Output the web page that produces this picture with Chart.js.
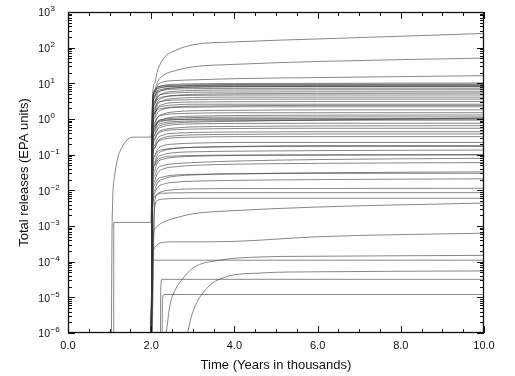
<!DOCTYPE html>
<html>
<head>
<meta charset="utf-8">
<script src="https://cdn.jsdelivr.net/npm/chart.js@4/dist/chart.umd.min.js"></script>
<style>
  html, body { margin: 0; padding: 0; background: #fff; }
  #wrap { width: 515px; height: 376px; }
</style>
</head>
<body>
<div id="wrap"><canvas id="chart"></canvas></div>
<script>
// shared time grid (thousands of years) for the runs that start at ~2.0
const timeGrid = [2.0, 2.03, 2.08, 2.15, 2.3, 2.6, 3.0, 4.0, 6.0, 10.0];

// runs ending above ~3 EPA units
const upperBand = [
  [1e-7, 3, 10, 22, 50, 85, 120, 145, 175, 250],
  [1e-7, 2, 6, 11, 17, 23, 29, 34, 41, 51],
  [1e-7, 1.5, 5, 8.5, 11, 12, 12.5, 13.5, 14.5, 16.4],
  [1e-7, 2, 5.5, 7.5, 8.8, 9.4, 9.7, 9.9, 10, 10.2],
  [1e-7, 3, 6.5, 7.8, 8.5, 8.9, 9.1, 9.3, 9.4, 9.5],
  [1e-7, 1, 4, 6.5, 7.8, 8.4, 8.7, 8.9, 9, 9.1],
  [1e-7, 2.5, 6, 7.2, 7.9, 8.2, 8.4, 8.5, 8.6, 8.6],
  [1e-7, 0.8, 3, 5, 6.6, 7.5, 7.9, 8.1, 8.2, 8.3],
  [1e-7, 1.5, 4.5, 6, 7, 7.5, 7.8, 8, 8.1, 8.1],
  [1e-7, 1.8, 4.2, 5.5, 6.4, 6.9, 7.1, 7.2, 7.3, 7.3],
  [1e-7, 0.6, 2.5, 4, 5.3, 6, 6.3, 6.5, 6.6, 6.6],
  [1e-7, 1.2, 3, 4.2, 5, 5.4, 5.6, 5.7, 5.8, 5.8],
  [1e-7, 0.5, 1.8, 3, 4, 4.6, 4.9, 5.1, 5.2, 5.3],
  [1e-7, 1, 2.6, 3.6, 4.2, 4.5, 4.6, 4.7, 4.7, 4.7],
  [1e-7, 0.4, 1.5, 2.5, 3.3, 3.8, 4, 4.1, 4.1, 4.1],
  [1e-7, 0.8, 2, 2.8, 3.2, 3.4, 3.5, 3.6, 3.6, 3.6],
  [1e-7, 0.3, 1.2, 2, 2.6, 2.9, 3, 3.05, 3.1, 3.1]
];

// runs ending between ~0.3 and ~3
const middleBand = [
  [1e-7, 0.5, 1.4, 2, 2.3, 2.5, 2.6, 2.6, 2.6, 2.6],
  [1e-7, 0.3, 1, 1.5, 1.9, 2.1, 2.15, 2.2, 2.2, 2.2],
  [1e-7, 0.2, 0.7, 1.1, 1.4, 1.6, 1.7, 1.75, 1.8, 1.8],
  [1e-7, 0.3, 0.8, 1.1, 1.3, 1.4, 1.45, 1.5, 1.5, 1.5],
  [1e-7, 0.15, 0.5, 0.8, 1, 1.15, 1.2, 1.25, 1.28, 1.3],
  [1e-7, 0.25, 0.6, 0.85, 0.98, 1.05, 1.1, 1.12, 1.14, 1.15],
  [1e-7, 0.2, 0.55, 0.75, 0.88, 0.95, 0.98, 1.0, 1.0, 1.0],
  [1e-7, 0.3, 0.65, 0.82, 0.92, 0.97, 0.99, 1.0, 1.01, 1.02],
  [1e-7, 0.1, 0.35, 0.55, 0.7, 0.78, 0.82, 0.86, 0.93, 1.07],
  [1e-7, 0.15, 0.45, 0.65, 0.78, 0.85, 0.88, 0.9, 0.92, 0.93],
  [1e-7, 0.12, 0.35, 0.5, 0.62, 0.7, 0.73, 0.75, 0.76, 0.76],
  [1e-7, 0.08, 0.25, 0.4, 0.5, 0.56, 0.6, 0.62, 0.64, 0.65],
  [1e-7, 0.1, 0.28, 0.38, 0.46, 0.5, 0.52, 0.54, 0.55, 0.55],
  [1e-7, 0.06, 0.18, 0.28, 0.36, 0.4, 0.42, 0.43, 0.44, 0.44],
  [1e-7, 0.05, 0.15, 0.23, 0.3, 0.34, 0.36, 0.37, 0.38, 0.38],
  [1e-7, 0.06, 0.15, 0.22, 0.27, 0.3, 0.31, 0.32, 0.32, 0.32]
];

// runs ending below ~0.3
const lowerBand = [
  [1e-7, 0.03, 0.09, 0.14, 0.18, 0.2, 0.21, 0.22, 0.22, 0.22],
  [1e-7, 0.02, 0.06, 0.1, 0.13, 0.15, 0.16, 0.17, 0.18, 0.18],
  [1e-7, 0.015, 0.05, 0.08, 0.1, 0.115, 0.12, 0.125, 0.13, 0.135],
  [1e-7, 0.01, 0.035, 0.06, 0.075, 0.085, 0.09, 0.095, 0.098, 0.1],
  [1e-7, 0.02, 0.05, 0.07, 0.085, 0.092, 0.095, 0.097, 0.098, 0.099],
  [1e-7, 0.008, 0.025, 0.04, 0.05, 0.056, 0.06, 0.066, 0.073, 0.079],
  [1e-7, 0.005, 0.018, 0.03, 0.04, 0.046, 0.05, 0.054, 0.057, 0.06],
  [1e-7, 0.003, 0.01, 0.016, 0.021, 0.025, 0.027, 0.029, 0.031, 0.033],
  [1e-7, 0.005, 0.014, 0.02, 0.024, 0.027, 0.028, 0.029, 0.03, 0.03],
  [1e-7, 0.002, 0.008, 0.012, 0.015, 0.017, 0.018, 0.019, 0.02, 0.021],
  [1e-7, 2e-6, 0.004, 0.008, 0.0095, 0.0105, 0.011, 0.0112, 0.0113, 0.0114],
  [1e-7, 0.003, 0.0065, 0.0078, 0.0083, 0.0085, 0.0086, 0.0086, 0.0086, 0.0086],
  [1e-7, 1e-5, 0.003, 0.0052, 0.0057, 0.0059, 0.006, 0.006, 0.006, 0.006],
  [1e-7, 3e-4, 8e-4, 1.0e-3, 1.3e-3, 1.7e-3, 2.2e-3, 2.7e-3, 3.4e-3, 4.4e-3],
  [1e-7, 1e-4, 2.4e-4, 3.0e-4, 3.5e-4, 3.6e-4, 3.6e-4, 3.7e-4, 5.0e-4, 6.3e-4],
  [1e-7, 1.1e-4, 1.1e-4, 1.1e-4, 1.1e-4, 1.1e-4, 1.1e-4, 1.1e-4, 1.1e-4, 1.1e-4]
];

// runs with their own time points (early releases, late arrivals)
const earlyTimes1  = [1.04, 1.06, 1.12, 1.2, 1.3, 1.42, 1.56, 1.99, 2.03, 2.1, 2.3, 3.0, 6.0, 10.0];
const earlyValues1 = [1e-7, 1e-3, 0.025, 0.085, 0.16, 0.26, 0.31, 0.31, 0.9, 1.6, 2.0, 2.3, 2.4, 2.4];
const earlyTimes2  = [1.099, 1.1, 1.99, 2.02, 2.1, 2.3, 3.0, 6.0, 10.0];
const earlyValues2 = [1e-7, 1.26e-3, 1.26e-3, 0.02, 0.1, 0.14, 0.16, 0.17, 0.17];
const lateTimes1   = [2.22, 2.23, 2.26, 10.0];
const lateValues1  = [1e-7, 2e-5, 3.2e-5, 3.2e-5];
const lateTimes2   = [2.26, 2.27, 2.31, 10.0];
const lateValues2  = [1e-7, 8e-6, 1.2e-5, 1.2e-5];
const lateTimes3   = [2.32, 2.38, 2.45, 2.6, 2.7, 3.0, 3.65, 4.6, 6.0, 10.0];
const lateValues3  = [5e-7, 1.5e-6, 6e-6, 1.8e-5, 2.7e-5, 6.6e-5, 1.1e-4, 1.35e-4, 1.42e-4, 1.5e-4];
const lateTimes4   = [2.84, 3.0, 3.34, 3.72, 4.61, 6.0, 10.0];
const lateValues4  = [7e-7, 3.9e-6, 1.8e-5, 3.5e-5, 4.8e-5, 5.2e-5, 5.5e-5];

// axis ticks
const xTickValues = [0, 2, 4, 6, 8, 10];
const xMinorStep = 0.5;
const yDecades = [-6, -5, -4, -3, -2, -1, 0, 1, 2, 3];

const lineColor = 'rgba(55,55,55,0.6)';
const fontFamily = '"Liberation Sans", Arial, Helvetica, sans-serif';

function toPoints(times, values) {
  return values.map((v, i) => ({ x: times[i], y: v }));
}

const datasets = [];
[...upperBand, ...middleBand, ...lowerBand].forEach(row => {
  datasets.push({ data: toPoints(timeGrid, row) });
});
[[earlyTimes1, earlyValues1], [earlyTimes2, earlyValues2],
 [lateTimes1, lateValues1], [lateTimes2, lateValues2],
 [lateTimes3, lateValues3], [lateTimes4, lateValues4]].forEach(([t, v]) => {
  datasets.push({ data: toPoints(t, v) });
});

// frame, inward ticks on all four sides, and 10^n labels
const frameAndTicks = {
  id: 'frameAndTicks',
  afterDraw(chart) {
    const { ctx, chartArea: a, scales: { x, y } } = chart;
    ctx.save();
    ctx.strokeStyle = '#111';
    ctx.lineWidth = 1;
    ctx.beginPath();

    for (let v = x.min; v <= x.max + 1e-9; v += xMinorStep) {
      const px = Math.round(x.getPixelForValue(v)) + 0.5;
      const len = xTickValues.includes(Math.round(v * 10) / 10) ? 7 : 4;
      ctx.moveTo(px, a.bottom); ctx.lineTo(px, a.bottom - len);
      ctx.moveTo(px, a.top); ctx.lineTo(px, a.top + len);
    }
    yDecades.forEach(d => {
      const py = Math.round(y.getPixelForValue(Math.pow(10, d))) + 0.5;
      ctx.moveTo(a.left, py); ctx.lineTo(a.left + 7, py);
      ctx.moveTo(a.right, py); ctx.lineTo(a.right - 7, py);
      if (d < yDecades[yDecades.length - 1]) {
        for (let m = 2; m <= 9; m++) {
          const pm = Math.round(y.getPixelForValue(m * Math.pow(10, d))) + 0.5;
          ctx.moveTo(a.left, pm); ctx.lineTo(a.left + 4, pm);
          ctx.moveTo(a.right, pm); ctx.lineTo(a.right - 4, pm);
        }
      }
    });
    ctx.stroke();

    ctx.lineWidth = 1.3;
    ctx.strokeRect(a.left + 0.5, a.top + 0.5, a.right - a.left - 1, a.bottom - a.top - 1);

    ctx.fillStyle = '#111';
    ctx.textBaseline = 'middle';
    yDecades.forEach(d => {
      const py = y.getPixelForValue(Math.pow(10, d));
      ctx.font = '10.5px ' + fontFamily;
      ctx.textAlign = 'right';
      ctx.fillText('10', a.left - 18, py + 1.5);
      ctx.font = '8px ' + fontFamily;
      ctx.textAlign = 'left';
      ctx.fillText(String(d).replace('-', '\u2212'), a.left - 17.5, py - 3);
    });
    ctx.restore();
  }
};

new Chart(document.getElementById('chart'), {
  type: 'line',
  data: { datasets },
  options: {
    responsive: true,
    maintainAspectRatio: false,
    animation: false,
    events: [],
    layout: { padding: { left: 0, right: 31, top: 12, bottom: 0 } },
    elements: {
      point: { radius: 0 },
      line: { borderColor: lineColor, borderWidth: 1, cubicInterpolationMode: 'monotone', fill: false }
    },
    plugins: { legend: { display: false }, tooltip: { enabled: false } },
    scales: {
      x: {
        type: 'linear', min: 0, max: 10,
        afterBuildTicks: s => { s.ticks = xTickValues.map(v => ({ value: v })); },
        grid: { display: false, drawTicks: false },
        border: { display: false },
        ticks: { padding: 6, color: '#111', font: { family: fontFamily, size: 11 },
                 maxRotation: 0, autoSkip: false, callback: v => Number(v).toFixed(1) },
        title: { display: true, text: 'Time (Years in thousands)', color: '#111',
                 font: { family: fontFamily, size: 13 }, padding: { top: 0, bottom: 3 } },
        afterFit: s => { s.height = 43; }
      },
      y: {
        type: 'logarithmic', min: 1e-6, max: 1e3,
        grid: { display: false, drawTicks: false },
        border: { display: false },
        ticks: { display: false },
        title: { display: true, text: 'Total releases (EPA units)', color: '#111',
                 font: { family: fontFamily, size: 13 }, padding: { top: 17, bottom: 0 } },
        afterFit: s => { s.width = 68; }
      }
    }
  },
  plugins: [frameAndTicks]
});
</script>
</body>
</html>
